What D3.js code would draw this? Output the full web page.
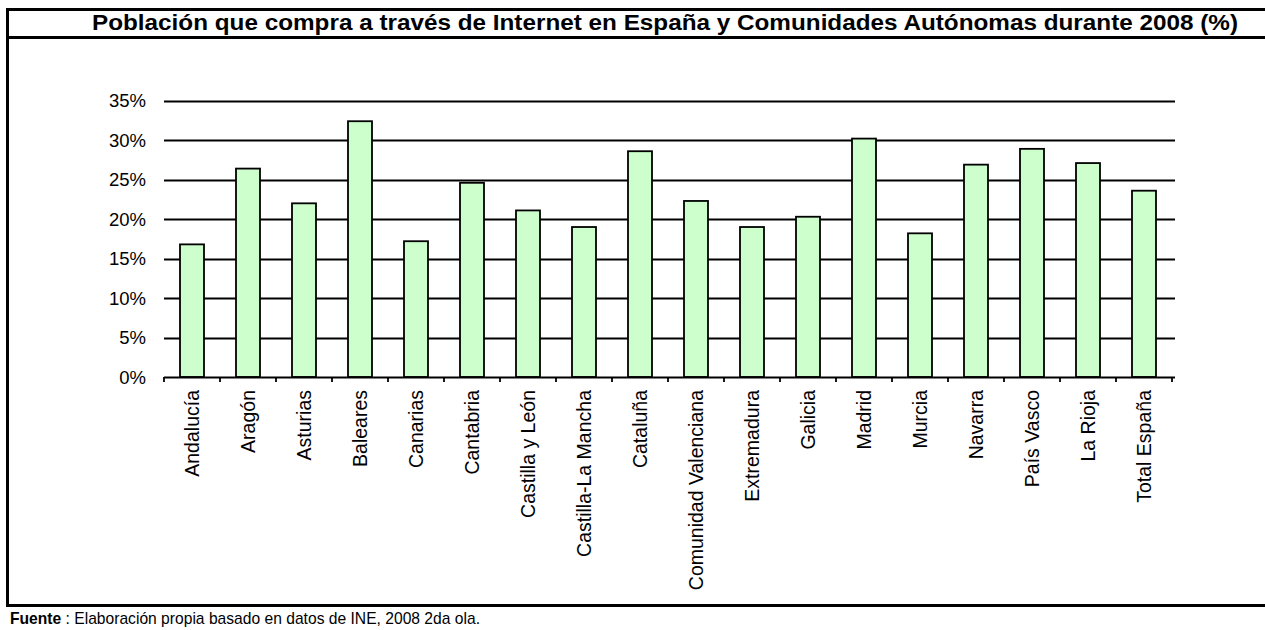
<!DOCTYPE html>
<html>
<head>
<meta charset="utf-8">
<script src="https://cdn.jsdelivr.net/npm/d3@7"></script>
<style>
  html, body { margin: 0; padding: 0; background: #fff; }
  svg { display: block; font-family: "Liberation Sans", Arial, sans-serif; }
</style>
</head>
<body>
<svg id="chart" width="1265" height="630"></svg>
<script>
const titleText = "Población que compra a través de Internet en España y Comunidades Autónomas durante 2008 (%)";
const categories = ["Andalucía", "Aragón", "Asturias", "Baleares", "Canarias", "Cantabria",
  "Castilla y León", "Castilla-La Mancha", "Cataluña", "Comunidad Valenciana", "Extremadura",
  "Galicia", "Madrid", "Murcia", "Navarra", "País Vasco", "La Rioja", "Total España"];
const values = [16.8, 26.4, 22.0, 32.4, 17.2, 24.6, 21.1, 19.0, 28.6, 22.3, 19.0, 20.3, 30.2, 18.2, 26.9, 28.9, 27.1, 23.6];
const yTicks = [0, 5, 10, 15, 20, 25, 30, 35];
const sourceBold = "Fuente";
const sourceText = " : Elaboración propia basado en datos de INE, 2008 2da ola.";

const svg = d3.select("#chart");

// Frame
const frame = svg.append("g").attr("stroke", "#000").attr("stroke-width", 3);
frame.append("line").attr("x1", 6).attr("x2", 1265).attr("y1", 9.5).attr("y2", 9.5);
frame.append("line").attr("x1", 6).attr("x2", 1265).attr("y1", 37.5).attr("y2", 37.5);
frame.append("line").attr("x1", 6).attr("x2", 1265).attr("y1", 605.5).attr("y2", 605.5);
frame.append("line").attr("x1", 7.5).attr("x2", 7.5).attr("y1", 8).attr("y2", 607);

// Title
svg.append("text")
  .attr("x", 92).attr("y", 30)
  .attr("font-weight", "bold")
  .attr("font-size", 21.5)
  .attr("textLength", 1146)
  .attr("lengthAdjust", "spacingAndGlyphs")
  .text(titleText);

// Scales
const x = d3.scaleBand().domain(categories).range([164, 1172]).paddingInner(0.5714).paddingOuter(0.2857);
const y = d3.scaleLinear().domain([0, 35]).range([377, 100.7]);

// Gridlines
svg.append("g").selectAll("line").data(yTicks.filter(d => d > 0)).join("line")
  .attr("x1", 164).attr("x2", 1175)
  .attr("y1", d => Math.round(y(d)) + 0.5).attr("y2", d => Math.round(y(d)) + 0.5)
  .attr("stroke", "#000").attr("stroke-width", 1.8);

// Y labels
svg.append("g").selectAll("text").data(yTicks).join("text")
  .attr("x", 146).attr("y", d => y(d) + 6.5)
  .attr("text-anchor", "end")
  .attr("font-size", 18.5)
  .text(d => d + "%");

// Bars
svg.append("g").selectAll("rect").data(values).join("rect")
  .attr("x", (d, i) => x(categories[i]))
  .attr("y", d => y(d))
  .attr("width", x.bandwidth())
  .attr("height", d => y(0) - y(d))
  .attr("fill", "#CCFFCC")
  .attr("stroke", "#000")
  .attr("stroke-width", 1.8);

// X axis line + ticks
const step = x.step();
const tickPos = d3.range(categories.length + 1).map(i => 164 + i * step);
const ax = svg.append("g").attr("stroke", "#000").attr("stroke-width", 1.8);
ax.append("line").attr("x1", 164).attr("x2", 1175).attr("y1", Math.round(y(0)) + 0.5).attr("y2", Math.round(y(0)) + 0.5);
ax.selectAll("line.tick").data(tickPos).join("line").attr("class", "tick")
  .attr("x1", d => d).attr("x2", d => d)
  .attr("y1", y(0)).attr("y2", y(0) + 5);

// X labels
svg.append("g").selectAll("text").data(categories).join("text")
  .attr("transform", d => `translate(${x(d) + x.bandwidth() / 2 + 6.5},390) rotate(-90)`)
  .attr("text-anchor", "end")
  .attr("font-size", 19.5)
  .text(d => d);

// Source
const src = svg.append("text").attr("x", 10).attr("y", 624).attr("font-size", 17);
src.append("tspan").attr("font-weight", "bold").text(sourceBold);
src.append("tspan").text(sourceText);
const w = src.node().getComputedTextLength();
src.attr("textLength", 470).attr("lengthAdjust", "spacingAndGlyphs");
</script>
</body>
</html>
